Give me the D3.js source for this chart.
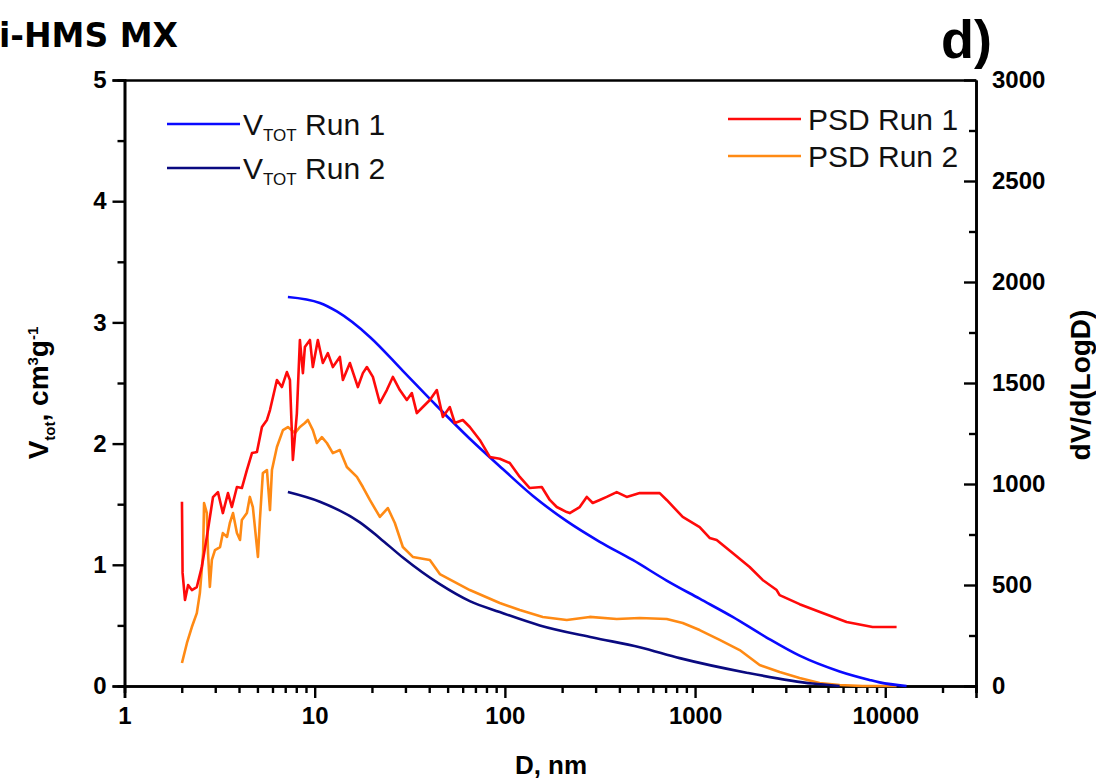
<!DOCTYPE html>
<html><head><meta charset="utf-8">
<script src="https://cdn.jsdelivr.net/npm/d3@7"></script>
<style>
body{margin:0;background:#fff}
svg{display:block}
text{font-family:"Liberation Sans",Arial,sans-serif}
</style>
</head><body>
<svg id="chart" width="1096" height="782"></svg>
<script>
// ---------- data ----------
const xMajorTicks = [1, 10, 100, 1000, 10000];
const yLeftTicks = [0, 1, 2, 3, 4, 5];
const yRightTicks = [0, 500, 1000, 1500, 2000, 2500, 3000];

// V_TOT Run 1 (left axis, cm3/g)
const vtot1D = [7.23, 10.65, 13.08, 19.5, 29.07, 43.87, 65.4, 97.5, 140.1, 211.5, 315.3, 470, 709, 1057, 1576, 2378, 3545, 5754, 8270, 9336, 12940];
const vtot1V = [3.21, 3.16, 3.09, 2.88, 2.60, 2.31, 2.04, 1.79, 1.57, 1.36, 1.19, 1.04, 0.87, 0.72, 0.57, 0.40, 0.25, 0.12, 0.05, 0.03, 0.0];

// V_TOT Run 2 (left axis)
const vtot2D = [7.23, 10.65, 17.28, 22.01, 29.07, 45.49, 65.4, 94, 152.6, 289.7, 511.6, 830, 1867, 4150, 5754];
const vtot2V = [1.60, 1.52, 1.35, 1.22, 1.06, 0.84, 0.70, 0.61, 0.50, 0.40, 0.32, 0.23, 0.11, 0.02, 0.0];

// PSD Run 1 (right axis, dV/dlogD)
const psd1D = [2.005, 2.02, 2.08, 2.16, 2.26, 2.40, 2.55, 2.71, 2.92, 3.10, 3.29, 3.50, 3.67, 3.90, 4.14, 4.40, 4.68, 4.97, 5.28, 5.61, 5.82, 6.33, 6.72, 7.14, 7.41, 7.68, 8.06, 8.36, 8.67, 8.88, 9.44, 9.78, 10.39, 11.04, 11.73, 12.46, 13.56, 14.07, 15.31, 16.87, 17.92, 18.81, 20.23, 22.01, 23.95, 25.76, 28.03, 30.51, 32.42, 34.44, 37.04, 40.31, 43.87, 47.18, 51.34, 54.55, 60.09, 65.4, 73.82, 83.3, 94, 106.1, 119.8, 135.1, 156.3, 172.2, 187.4, 211.5, 219.3, 247.5, 269.4, 289.7, 315.3, 343.1, 387.3, 437, 511.6, 651.6, 709.3, 861, 1057, 1193, 1299, 1576, 1936, 2266, 2685, 2784, 3545, 4684, 6262, 8577, 11470];
const psd1V = [912, 560, 426, 500, 475, 490, 590, 738, 935, 960, 856, 955, 886, 985, 980, 1069, 1153, 1158, 1282, 1317, 1366, 1515, 1480, 1554, 1515, 1119, 1350, 1713, 1549, 1678, 1713, 1579, 1713, 1599, 1648, 1579, 1629, 1515, 1599, 1480, 1549, 1579, 1530, 1401, 1465, 1530, 1465, 1416, 1450, 1351, 1381, 1416, 1465, 1332, 1381, 1302, 1317, 1282, 1218, 1134, 1125, 1104, 1035, 980, 985, 921, 886, 861, 856, 886, 936, 906, 921, 936, 960, 936, 955, 955, 921, 837, 787, 733, 723, 658, 589, 525, 475, 450, 405, 361, 317, 292, 292];

// PSD Run 2 (right axis)
const psd2D = [2.005, 2.13, 2.26, 2.40, 2.49, 2.59, 2.62, 2.71, 2.75, 2.81, 2.88, 2.99, 3.18, 3.29, 3.46, 3.58, 3.72, 3.90, 4.05, 4.14, 4.40, 4.56, 4.73, 5.03, 5.15, 5.34, 5.61, 5.82, 5.96, 6.33, 6.81, 7.23, 7.87, 8.36, 8.88, 9.21, 9.78, 10.27, 10.91, 11.59, 12.46, 13.56, 14.76, 16.67, 17.92, 19.5, 22.01, 24.24, 26.39, 29.07, 32.81, 40.31, 45.49, 65.4, 94, 119.8, 158.2, 211.5, 279.3, 387.3, 511.6, 709.3, 861, 1057, 1347, 1716, 2185, 2784, 3545, 4516, 5754, 7600, 11470];
const psd2V = [114, 213, 292, 361, 460, 658, 906, 856, 658, 490, 624, 673, 688, 757, 738, 807, 856, 757, 723, 822, 856, 936, 886, 639, 822, 1054, 1069, 871, 1069, 1183, 1267, 1282, 1252, 1282, 1302, 1317, 1267, 1203, 1232, 1203, 1153, 1168, 1084, 1035, 985, 921, 837, 881, 807, 688, 639, 624, 554, 475, 411, 376, 342, 327, 342, 332, 337, 332, 312, 277, 228, 178, 104, 69, 40, 15, 5, 0, 0];

const seriesNames = ["V_TOT Run 1", "V_TOT Run 2", "PSD Run 1", "PSD Run 2"];
const seriesColors = ["#0a0aff", "#0a0a80", "#ff0a0a", "#ff8a14"];

// ---------- layout ----------
const svg = d3.select("#chart");
const L = 124.5, R = 976, T = 80, B = 686;
const x = d3.scaleLog().domain([1, 30000]).range([L, R]);
const yL = d3.scaleLinear().domain([0, 5]).range([B, T]);
const yR = d3.scaleLinear().domain([0, 3000]).range([B, T]);

const zip = (a, b) => a.map((d, i) => [d, b[i]]);

// minor ticks
const xMinor = [];
for (let p = 0; p <= 4; p++) for (let k = 2; k <= 9; k++) { const v = k * Math.pow(10, p); if (v <= 30000) xMinor.push(v); }
const yLMinor = d3.range(0.5, 5, 1);
const yRMinor = d3.range(250, 3000, 500);

const TF = 24;
function styleAxis(g) {
  g.select(".domain").attr("stroke", "#000").attr("stroke-width", 2.6);
  g.selectAll(".tick line").attr("stroke", "#000").attr("stroke-width", 2.4);
  g.selectAll("text").attr("font-size", TF).attr("font-weight", "bold").attr("fill", "#000")
    .style("font-family", "'Liberation Sans', Arial, sans-serif");
}

// x minor
svg.append("g").attr("transform", `translate(0,${B})`)
  .call(d3.axisBottom(x).tickValues(xMinor).tickSize(7).tickFormat(""))
  .call(styleAxis);
// x major
svg.append("g").attr("transform", `translate(0,${B})`)
  .call(d3.axisBottom(x).tickValues(xMajorTicks).tickSize(12).tickPadding(9).tickFormat(d3.format("d")))
  .call(styleAxis);
// top frame
svg.append("g").attr("transform", `translate(0,${T})`)
  .call(d3.axisTop(x).tickValues([]).tickSizeOuter(0))
  .call(styleAxis);

// left minor + major
svg.append("g").attr("transform", `translate(${L},0)`)
  .call(d3.axisLeft(yL).tickValues(yLMinor).tickSize(7).tickFormat(""))
  .call(styleAxis);
svg.append("g").attr("transform", `translate(${L},0)`)
  .call(d3.axisLeft(yL).tickValues(yLeftTicks).tickSize(12).tickPadding(6).tickFormat(d3.format("d")))
  .call(styleAxis);

// right axis: ticks pointing inward
svg.append("g").attr("transform", `translate(${R},0)`)
  .call(d3.axisRight(yR).tickValues(yRMinor).tickSize(-7).tickSizeOuter(0).tickFormat(""))
  .call(styleAxis);
svg.append("g").attr("transform", `translate(${R},0)`)
  .call(d3.axisRight(yR).tickValues(yRightTicks).tickSize(-12).tickSizeOuter(0).tickPadding(16).tickFormat(d3.format("d")))
  .call(styleAxis);

// ---------- lines ----------
const lineL = d3.line().curve(d3.curveMonotoneX).x(d => x(d[0])).y(d => yL(d[1]));
const lineR = d3.line().x(d => x(d[0])).y(d => yR(d[1]));
const plot = svg.append("g");
plot.append("path").datum(zip(psd2D, psd2V)).attr("d", lineR)
  .attr("fill", "none").attr("stroke", seriesColors[3]).attr("stroke-width", 2.6).attr("stroke-linejoin", "round");
plot.append("path").datum(zip(vtot2D, vtot2V)).attr("d", lineL)
  .attr("fill", "none").attr("stroke", seriesColors[1]).attr("stroke-width", 2.6).attr("stroke-linejoin", "round");
plot.append("path").datum(zip(vtot1D, vtot1V)).attr("d", lineL)
  .attr("fill", "none").attr("stroke", seriesColors[0]).attr("stroke-width", 2.6).attr("stroke-linejoin", "round");
plot.append("path").datum(zip(psd1D, psd1V)).attr("d", lineR)
  .attr("fill", "none").attr("stroke", seriesColors[2]).attr("stroke-width", 2.6).attr("stroke-linejoin", "round");

// ---------- legends ----------
const legL = [{y: 124, name: "Run 1", c: seriesColors[0]}, {y: 168, name: "Run 2", c: seriesColors[1]}];
legL.forEach(d => {
  svg.append("line").attr("x1", 167).attr("x2", 240).attr("y1", d.y).attr("y2", d.y)
    .attr("stroke", d.c).attr("stroke-width", 2.6);
  const t = svg.append("text").attr("x", 243).attr("y", d.y + 11).attr("font-size", 30).attr("fill", "#111");
  t.append("tspan").text("V");
  t.append("tspan").attr("font-size", 17).attr("dy", 6).text("TOT");
  t.append("tspan").attr("dy", -6).text(" " + d.name);
});
const legR = [{y: 119, name: "PSD Run 1", c: seriesColors[2]}, {y: 156, name: "PSD Run 2", c: seriesColors[3]}];
legR.forEach(d => {
  svg.append("line").attr("x1", 728).attr("x2", 801).attr("y1", d.y).attr("y2", d.y)
    .attr("stroke", d.c).attr("stroke-width", 2.6);
  svg.append("text").attr("x", 808).attr("y", d.y + 11).attr("font-size", 30).attr("fill", "#111").text(d.name);
});

// ---------- titles ----------
svg.append("text").attr("x", 178).attr("y", 47).attr("text-anchor", "end")
  .style("font-family", "'DejaVu Sans', sans-serif")
  .attr("font-size", 33).attr("font-weight", "bold").text("i-HMS MX");
svg.append("text").attr("x", 941).attr("y", 58)
  .attr("font-size", 54).attr("font-weight", "bold").text("d)");

svg.append("text").attr("x", 551).attr("y", 774).attr("text-anchor", "middle")
  .attr("font-size", 26).attr("font-weight", "bold").text("D, nm");

const yt = svg.append("text").attr("transform", "translate(48,393) rotate(-90)")
  .attr("text-anchor", "middle").attr("font-size", 28).attr("font-weight", "bold");
yt.append("tspan").text("V");
yt.append("tspan").attr("font-size", 15).attr("dy", 7).text("tot");
yt.append("tspan").attr("dy", -7).text(", cm");
yt.append("tspan").attr("font-size", 15).attr("dy", -10).text("3");
yt.append("tspan").attr("dy", 10).text("g");
yt.append("tspan").attr("font-size", 15).attr("dy", -10).text("-1");

svg.append("text").attr("transform", "translate(1090,385) rotate(-90)")
  .attr("text-anchor", "middle").attr("font-size", 28).attr("font-weight", "bold").text("dV/d(LogD)");
</script>
</body></html>
